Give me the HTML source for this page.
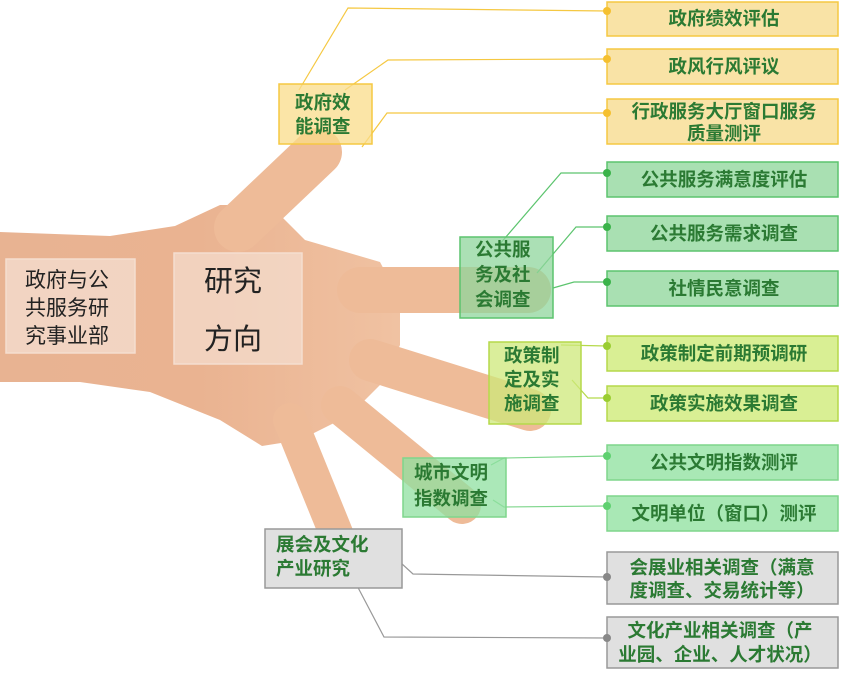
<!DOCTYPE html>
<html><head><meta charset="utf-8"><style>
html,body{margin:0;padding:0;background:#fff;}
svg{display:block}
text{font-family:"Liberation Sans","Noto Sans CJK SC",sans-serif;}
.g{fill:#2b7a33;font-weight:bold;font-size:18.5px;}
.s{font-family:"Noto Serif CJK SC","Liberation Serif",serif;fill:#222;}
</style></head><body>
<svg width="843" height="675" viewBox="0 0 843 675" xmlns="http://www.w3.org/2000/svg">
<defs>
<linearGradient id="sk" x1="0" y1="0" x2="1" y2="0">
<stop offset="0" stop-color="#e8b392"/><stop offset="0.5" stop-color="#eab391"/><stop offset="1" stop-color="#f0c2a2"/>
</linearGradient>
</defs>
<g fill="url(#sk)" stroke="none">
<path d="M0,232 L110,236 L175,226 L220,205 L270,205 L305,240 L380,262 L400,300 L400,345 L385,380 L350,415 L300,440 L262,446 L220,420 L150,392 L80,382 L0,382 Z"/>
</g>
<g stroke="#eebb98" stroke-linecap="round" fill="none">
<line x1="238" y1="228" x2="318" y2="152" stroke-width="48"/>
<line x1="360" y1="290" x2="528" y2="290" stroke-width="46"/>
<line x1="370" y1="360" x2="530" y2="410" stroke-width="42"/>
<line x1="340" y1="405" x2="462" y2="505" stroke-width="38"/>
<line x1="290" y1="420" x2="342" y2="548" stroke-width="34"/>
</g>
<g fill="none" stroke-width="1.2">
<polyline points="299,90 348,8 607,11" stroke="#f5c842"/>
<polyline points="345,90 388,60 607,59" stroke="#f5c842"/>
<polyline points="362,147 387,113 607,113" stroke="#f5c842"/>
<polyline points="499,245 561,173 607,173" stroke="#5cc46e"/>
<polyline points="537,273 576,227 607,227" stroke="#5cc46e"/>
<polyline points="553,288 574,282 607,282" stroke="#5cc46e"/>
<polyline points="561,345 607,346" stroke="#b5d94a"/>
<polyline points="572,380 588,398 607,398" stroke="#b5d94a"/>
<polyline points="491,465 504,458 607,456" stroke="#7fd68c"/>
<polyline points="493,500 504,507 607,506" stroke="#7fd68c"/>
<polyline points="378,542 413,574 607,577" stroke="#999"/>
<polyline points="353,578 384,637 607,638" stroke="#999"/>
</g>
<g stroke-width="1.5">
<rect x="607" y="2" width="231" height="34" fill="#f9e3a6" stroke="#f5c842"/>
<rect x="607" y="49" width="231" height="35" fill="#f9e3a6" stroke="#f5c842"/>
<rect x="607" y="99" width="231" height="45" fill="#f9e3a6" stroke="#f5c842"/>
<rect x="607" y="162" width="231" height="35" fill="#a9e0b2" stroke="#5cc46e"/>
<rect x="607" y="216" width="231" height="35" fill="#a9e0b2" stroke="#5cc46e"/>
<rect x="607" y="271" width="231" height="35" fill="#a9e0b2" stroke="#5cc46e"/>
<rect x="607" y="336" width="231" height="35" fill="#d9ef94" stroke="#b5d94a"/>
<rect x="607" y="386" width="231" height="35" fill="#d9ef94" stroke="#b5d94a"/>
<rect x="607" y="445" width="231" height="35" fill="#a9e8b5" stroke="#7fd68c"/>
<rect x="607" y="496" width="231" height="35" fill="#a9e8b5" stroke="#7fd68c"/>
<rect x="607" y="552" width="231" height="52" fill="#e0e0e0" stroke="#999"/>
<rect x="607" y="617" width="231" height="51" fill="#e0e0e0" stroke="#999"/>
</g>
<g>
<circle cx="607" cy="11" r="4" fill="#f5c030"/><circle cx="607" cy="59" r="4" fill="#f5c030"/><circle cx="607" cy="113" r="4" fill="#f5c030"/>
<circle cx="607" cy="173" r="4" fill="#3bb34a"/><circle cx="607" cy="227" r="4" fill="#3bb34a"/><circle cx="607" cy="282" r="4" fill="#3bb34a"/>
<circle cx="607" cy="346" r="4" fill="#9acd32"/><circle cx="607" cy="398" r="4" fill="#9acd32"/>
<circle cx="607" cy="456" r="4" fill="#5fd070"/><circle cx="607" cy="506" r="4" fill="#5fd070"/>
<circle cx="607" cy="577" r="4" fill="#888"/><circle cx="607" cy="638" r="4" fill="#888"/>
</g>
<g class="g" text-anchor="middle">
<text x="724" y="25">政府绩效评估</text>
<text x="724" y="73">政风行风评议</text>
<text x="724" y="118">行政服务大厅窗口服务</text>
<text x="724" y="140">质量测评</text>
<text x="724" y="186">公共服务满意度评估</text>
<text x="724" y="240">公共服务需求调查</text>
<text x="724" y="295">社情民意调查</text>
<text x="724" y="360">政策制定前期预调研</text>
<text x="724" y="410">政策实施效果调查</text>
<text x="724" y="469">公共文明指数测评</text>
<text x="724" y="520">文明单位（窗口）测评</text>
<text x="722" y="574">会展业相关调查（满意</text>
<text x="722" y="597">度调查、交易统计等）</text>
<text x="720" y="637">文化产业相关调查（产</text>
<text x="720" y="661">业园、企业、人才状况）</text>
</g>
<g stroke-width="1.5">
<rect x="279" y="84" width="93" height="60" fill="#f9dc8a" fill-opacity="0.75" stroke="#f5c842"/>
<rect x="460" y="237" width="93" height="81" fill="#8fd69c" fill-opacity="0.75" stroke="#5cc46e"/>
<rect x="489" y="342" width="92" height="82" fill="#cde87a" fill-opacity="0.75" stroke="#b5d94a"/>
<rect x="403" y="458" width="103" height="59" fill="#8fe0a0" fill-opacity="0.75" stroke="#7fd68c"/>
<rect x="265" y="529" width="137" height="59" fill="#e0e0e0" stroke="#999"/>
</g>
<g class="g">
<text x="295" y="109">政府效</text><text x="295" y="133">能调查</text>
<text x="475" y="256">公共服</text><text x="475" y="281">务及社</text><text x="475" y="306">会调查</text>
<text x="504" y="362">政策制</text><text x="504" y="386">定及实</text><text x="504" y="410">施调查</text>
<text x="414" y="479">城市文明</text><text x="414" y="505">指数调查</text>
<text x="276" y="551">展会及文化</text><text x="276" y="575">产业研究</text>
</g>
<rect x="6" y="259" width="129" height="94" fill="#f7e6dc" fill-opacity="0.65" stroke="#f5ded0" stroke-width="1.5"/>
<rect x="174" y="253" width="128" height="111" fill="#f7e6dc" fill-opacity="0.6" stroke="#f5ded0" stroke-width="1.5"/>
<g class="s" font-size="21">
<text x="25" y="287">政府与公</text><text x="25" y="315">共服务研</text><text x="25" y="343">究事业部</text>
</g>
<g class="s" font-size="29">
<text x="204" y="291">研究</text><text x="204" y="349">方向</text>
</g>
</svg>
</body></html>
